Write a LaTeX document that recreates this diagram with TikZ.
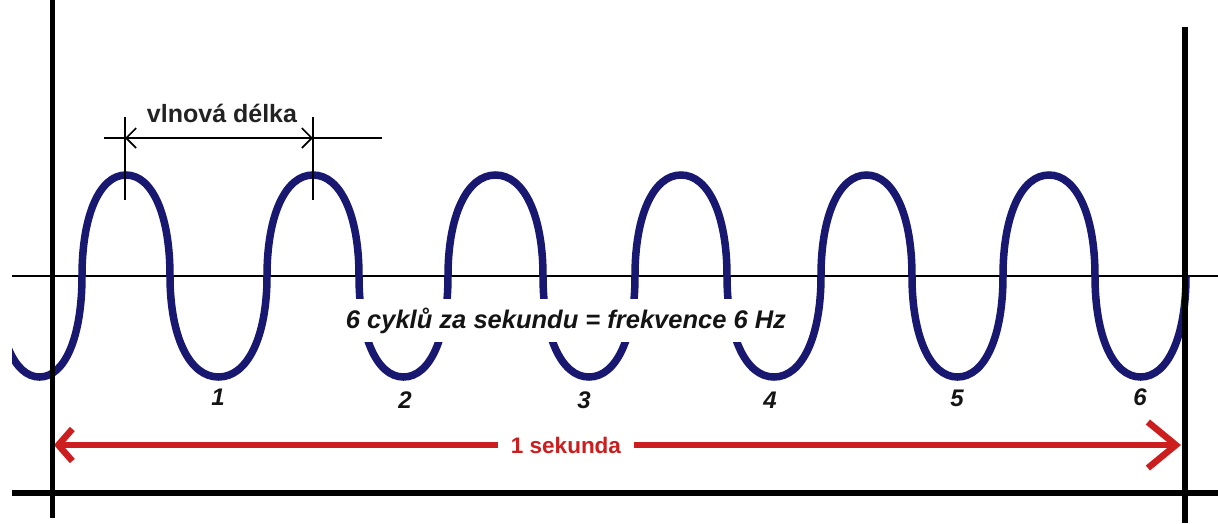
\documentclass[tikz,border=0pt]{standalone}
\usepackage{fontspec}
\setmainfont{Liberation Sans}
\usetikzlibrary{arrows.meta}
\definecolor{wavec}{RGB}{24,24,112}
\definecolor{redc}{RGB}{204,30,30}
\definecolor{txt}{RGB}{20,20,20}
\begin{document}
\begin{tikzpicture}[x=1pt,y=-1pt,
  thinline/.style={line width=1.6pt, black},
  wave/.style={line width=7.5pt, wavec},
  num/.style={font=\fontsize{24}{28}\selectfont\bfseries\itshape, text=txt, anchor=base, inner sep=0pt},
]
\useasboundingbox (0,0) rectangle (1218,523);
\fill[white] (0,0) rectangle (1218,523);
\def\k{0.6}
% thin axis
\coordinate (axL) at (12,276);
\coordinate (axR) at (1218,276);
\draw[thinline] (axL) -- (axR);
% wave
\begin{scope}
\clip (12,0) rectangle (1190,523);
\draw[wave] (-3,276)
 \foreach \a/\b/\s in {-3/82/1, 82/170/-1, 170/267/1, 267/359/-1, 359/448/1, 448/543/-1, 543/635/1, 635/727/-1, 727/821/1, 821/912/-1, 912/1003/1, 1003/1095/-1, 1095/1186/1}
 { .. controls (\a,{276+\s*\k*101}) and ({(\a+\b)/2-\k*(\b-\a)/2},{276+\s*101}) .. ({(\a+\b)/2},{276+\s*101})
   .. controls ({(\a+\b)/2+\k*(\b-\a)/2},{276+\s*101}) and (\b,{276+\s*\k*101}) .. (\b,276) };
\end{scope}
% centre text over the wave
\node[anchor=base, fill=white, inner xsep=4pt, inner ysep=0pt, text height=29pt, text depth=14pt,
      font=\fontsize{25.5}{30}\selectfont\bfseries\itshape, text=txt] (freq) at (566,328)
  {6 cyklů za sekundu = frekvence 6 Hz};
% wavelength dimension
\coordinate (dL) at (104,138);
\coordinate (dR) at (382,138);
\coordinate (t1a) at (125,117);
\coordinate (t1b) at (125,200);
\coordinate (t2a) at (313,117);
\coordinate (t2b) at (313,200);
\coordinate (p1) at (125,138);
\coordinate (p2) at (313,138);
\draw[thinline] (dL) -- (dR);
\draw[thinline] (t1a) -- (t1b);
\draw[thinline] (t2a) -- (t2b);
\draw[thinline, {Straight Barb[length=10pt,width=20pt]}-{Straight Barb[length=10pt,width=20pt]}] (p1) -- (p2);
\node[anchor=base, inner sep=0pt, font=\fontsize{25}{30}\selectfont\bfseries, text={rgb,255:red,34;green,34;blue,34}] (wl) at (222,122) {vlnová délka};
% cycle numbers
\node[num] (n1) at (218,405) {1};
\node[num] (n2) at (405,408) {2};
\node[num] (n3) at (584,408) {3};
\node[num] (n4) at (770,408) {4};
\node[num] (n5) at (957,406) {5};
\node[num] (n6) at (1140,405) {6};
% red one-second arrow
\coordinate (rL) at (54,445);
\coordinate (rR) at (1181,445);
\draw[line width=6.5pt, redc, {Straight Barb[length=14pt,width=32pt]}-{Straight Barb[length=28pt,width=46pt]}] (rL) -- (rR);
\node[fill=white, inner xsep=13pt, inner ysep=3pt, font=\fontsize{22.5}{26}\selectfont\bfseries, text=redc] (sec) at (566,445) {1 sekunda};
% black frame lines
\coordinate (vLt) at (52,0);
\coordinate (vLb) at (52,518);
\coordinate (vRt) at (1185,27);
\coordinate (vRb) at (1185,523);
\coordinate (hL) at (12,493);
\coordinate (hR) at (1218,493);
\draw[line width=5pt, black] (vLt) -- (vLb);
\draw[line width=5.5pt, black] (vRt) -- (vRb);
\draw[line width=6.5pt, black] (hL) -- (hR);
\end{tikzpicture}
\end{document}
